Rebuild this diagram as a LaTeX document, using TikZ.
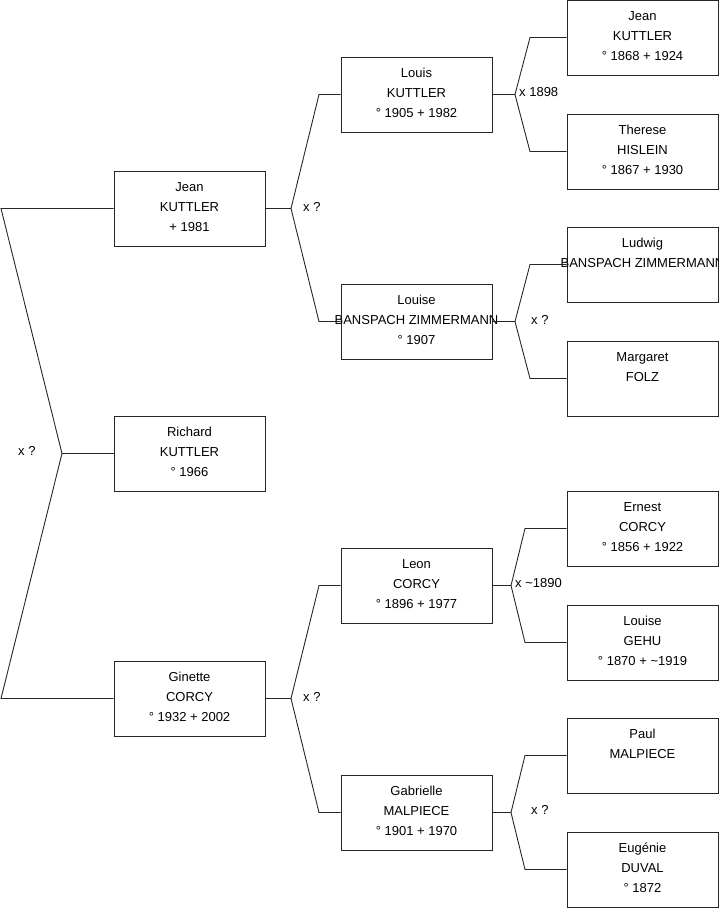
\documentclass[tikz,border=0pt]{standalone}
\usepackage{fontspec}
\setmainfont{Liberation Sans}
\newcommand\pnode[4]{%
  \node[pbox] (#1) at (#2) {};
  \node[ptext] (#1t) at ([yshift=-6.8pt]#1.north) {#3\strut\\#4\strut};
}
\tikzset{
  pbox/.style={draw=black!85, line width=1pt, minimum width=151pt, minimum height=75pt, inner sep=0pt},
  ptext/.style={anchor=north, align=center, inner sep=0pt, font=\fontsize{13}{20}\selectfont},
  conn/.style={draw=black!85, line width=0.9pt},
  mlabel/.style={anchor=west, inner sep=0pt, font=\fontsize{13}{16}\selectfont},
}
\begin{document}
\begin{tikzpicture}[x=1pt,y=-1pt]
\useasboundingbox (0,0) rectangle (719,908);
% level 1
\pnode{jean}{189.5,208.5}{Jean}{KUTTLER\strut\\+ 1981}
\pnode{richard}{189.5,453.5}{Richard}{KUTTLER\strut\\° 1966}
\pnode{ginette}{189.5,698.5}{Ginette}{CORCY\strut\\° 1932 + 2002}
% level 2
\pnode{louis}{416.5,94.5}{Louis}{KUTTLER\strut\\° 1905 + 1982}
\pnode{louiseb}{416.5,321.5}{Louise}{BANSPACH ZIMMERMANN\strut\\° 1907}
\pnode{leon}{416.5,585.5}{Leon}{CORCY\strut\\° 1896 + 1977}
\pnode{gabrielle}{416.5,812.5}{Gabrielle}{MALPIECE\strut\\° 1901 + 1970}
% level 3
\pnode{jeank}{642.5,37.5}{Jean}{KUTTLER\strut\\° 1868 + 1924}
\pnode{therese}{642.5,151.5}{Therese}{HISLEIN\strut\\° 1867 + 1930}
\pnode{ludwig}{642.5,264.5}{Ludwig}{BANSPACH ZIMMERMANN}
\pnode{margaret}{642.5,378.5}{Margaret}{FOLZ}
\pnode{ernest}{642.5,528.5}{Ernest}{CORCY\strut\\° 1856 + 1922}
\pnode{louiseg}{642.5,642.5}{Louise}{GEHU\strut\\° 1870 + \textasciitilde 1919}
\pnode{paul}{642.5,755.5}{Paul}{MALPIECE}
\pnode{eugenie}{642.5,869.5}{Eugénie}{DUVAL\strut\\° 1872}
% fork 0
\coordinate (a0) at (1,208.5);
\coordinate (f0) at (62,453.5);
\coordinate (b0) at (1,698.5);
\draw[conn] (jean.west) -- (a0) -- (f0) -- (b0) -- (ginette.west);
\draw[conn] (f0) -- (richard.west);
\node[mlabel] (l0) at (18,451) {x ?};
% fork jean
\coordinate (f1) at (291,208.5);
\coordinate (a1) at (319,94.5);
\coordinate (b1) at (319,321.5);
\draw[conn] (jean.east) -- (f1);
\draw[conn] (louis.west) -- (a1) -- (f1) -- (b1) -- (louiseb.west);
\node[mlabel] (l1) at (303,207) {x ?};
% fork ginette
\coordinate (f2) at (291,698.5);
\coordinate (a2) at (319,585.5);
\coordinate (b2) at (319,812.5);
\draw[conn] (ginette.east) -- (f2);
\draw[conn] (leon.west) -- (a2) -- (f2) -- (b2) -- (gabrielle.west);
\node[mlabel] (l2) at (303,697) {x ?};
% fork louis
\coordinate (f3) at (515,94.5);
\coordinate (a3) at (530,37.5);
\coordinate (b3) at (530,151.5);
\draw[conn] (louis.east) -- (f3);
\draw[conn] (jeank.west) -- (a3) -- (f3) -- (b3) -- (therese.west);
\node[mlabel] (l3) at (519,92) {x 1898};
% fork louise
\coordinate (f4) at (515,321.5);
\coordinate (a4) at (530,264.5);
\coordinate (b4) at (530,378.5);
\draw[conn] (louiseb.east) -- (f4);
\draw[conn] (ludwig.west) -- (a4) -- (f4) -- (b4) -- (margaret.west);
\node[mlabel] (l4) at (531,320) {x ?};
% fork leon
\coordinate (f5) at (511,585.5);
\coordinate (a5) at (525,528.5);
\coordinate (b5) at (525,642.5);
\draw[conn] (leon.east) -- (f5);
\draw[conn] (ernest.west) -- (a5) -- (f5) -- (b5) -- (louiseg.west);
\node[mlabel] (l5) at (515,583) {x \textasciitilde 1890};
% fork gabrielle
\coordinate (f6) at (511,812.5);
\coordinate (a6) at (525,755.5);
\coordinate (b6) at (525,869.5);
\draw[conn] (gabrielle.east) -- (f6);
\draw[conn] (paul.west) -- (a6) -- (f6) -- (b6) -- (eugenie.west);
\node[mlabel] (l6) at (531,810) {x ?};
\end{tikzpicture}
\end{document}
